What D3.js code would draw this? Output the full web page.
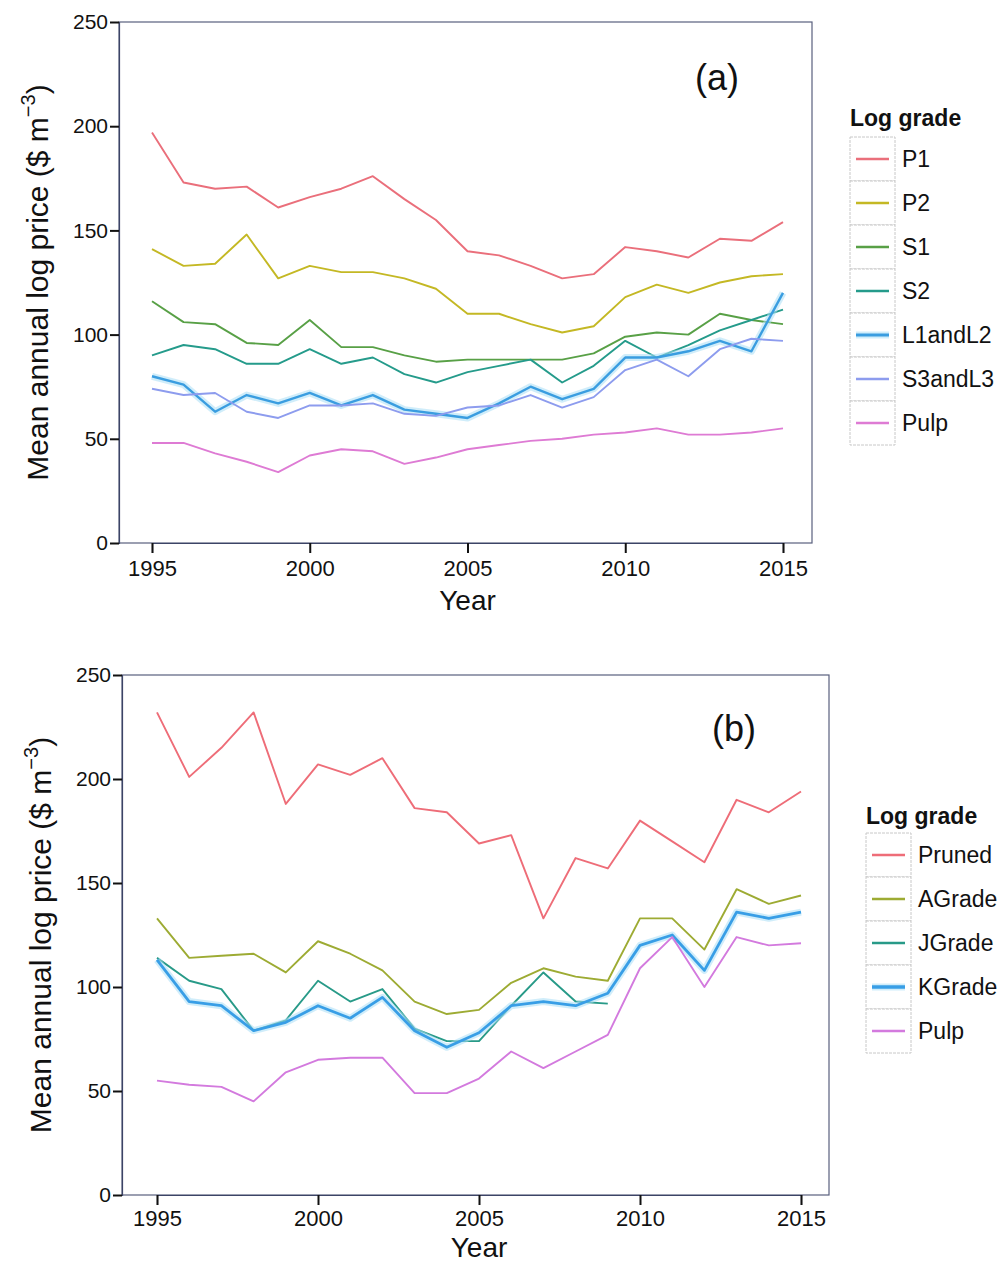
<!DOCTYPE html>
<html>
<head>
<meta charset="utf-8">
<script src="https://cdn.jsdelivr.net/npm/d3@7"></script>
<style>
  body { margin: 0; background: #fff; }
  svg { display: block; font-family: "Liberation Sans", Arial, sans-serif; }
</style>
</head>
<body>
<svg id="chart" width="1000" height="1264"></svg>
<script>
// Years on the x axis
const years = [1995, 1996, 1997, 1998, 1999, 2000, 2001, 2002, 2003, 2004, 2005,
               2006, 2007, 2008, 2009, 2010, 2011, 2012, 2013, 2014, 2015];
const xTicks = [1995, 2000, 2005, 2010, 2015];
const yTicks = [0, 50, 100, 150, 200, 250];

// Panel (a): mean annual log price by grade ($ m^-3)
const gradesA = ["P1", "P2", "S1", "S2", "L1andL2", "S3andL3", "Pulp"];
const p1    = [197, 173, 170, 171, 161, 166, 170, 176, 165, 155, 140, 138, 133, 127, 129, 142, 140, 137, 146, 145, 154];
const p2    = [141, 133, 134, 148, 127, 133, 130, 130, 127, 122, 110, 110, 105, 101, 104, 118, 124, 120, 125, 128, 129];
const s1    = [116, 106, 105, 96, 95, 107, 94, 94, 90, 87, 88, 88, 88, 88, 91, 99, 101, 100, 110, 107, 105];
const s2    = [90, 95, 93, 86, 86, 93, 86, 89, 81, 77, 82, 85, 88, 77, 85, 97, 89, 95, 102, 107, 112];
const l1l2  = [80, 76, 63, 71, 67, 72, 66, 71, 64, 62, 60, 67, 75, 69, 74, 89, 89, 92, 97, 92, 120];
const s3l3  = [74, 71, 72, 63, 60, 66, 66, 67, 62, 61, 65, 66, 71, 65, 70, 83, 88, 80, 93, 98, 97];
const pulpA = [48, 48, 43, 39, 34, 42, 45, 44, 38, 41, 45, 47, 49, 50, 52, 53, 55, 52, 52, 53, 55];
const colorsA = ["#ea6f7b", "#c4b824", "#58a046", "#259b8b", "#3a9de0", "#8d9cee", "#de7bd4"];

// Panel (b): mean annual log price by grade ($ m^-3); JGrade stops after 2009
const gradesB = ["Pruned", "AGrade", "JGrade", "KGrade", "Pulp"];
const pruned = [232, 201, 215, 232, 188, 207, 202, 210, 186, 184, 169, 173, 133, 162, 157, 180, 170, 160, 190, 184, 194];
const agrade = [133, 114, 115, 116, 107, 122, 116, 108, 93, 87, 89, 102, 109, 105, 103, 133, 133, 118, 147, 140, 144];
const jgrade = [114, 103, 99, 79, 84, 103, 93, 99, 80, 74, 74, 91, 107, 93, 92, null, null, null, null, null, null];
const kgrade = [113, 93, 91, 79, 83, 91, 85, 95, 79, 71, 78, 91, 93, 91, 97, 120, 125, 108, 136, 133, 136];
const pulpB  = [55, 53, 52, 45, 59, 65, 66, 66, 49, 49, 56, 69, 61, 69, 77, 109, 124, 100, 124, 120, 121];
const colorsB = ["#ee6d78", "#9dab33", "#289a88", "#389ee6", "#d37ade"];

const svg = d3.select("#chart");

function drawPanel(cfg) {
  const x = d3.scaleLinear().domain([1995, 2015]).range([cfg.x0, cfg.x1]);
  const y = d3.scaleLinear().domain([0, 250]).range([cfg.yBottom, cfg.yTop]);
  const g = svg.append("g");

  // plot frame
  g.append("rect")
    .attr("x", cfg.frameLeft).attr("y", cfg.yTop)
    .attr("width", cfg.frameRight - cfg.frameLeft).attr("height", cfg.yBottom - cfg.yTop)
    .attr("fill", "none").attr("stroke", "#59607e").attr("stroke-width", 1.2);

  // y axis
  const yAxis = g.append("g")
    .attr("transform", `translate(${cfg.frameLeft},0)`)
    .call(d3.axisLeft(y).tickValues(yTicks).tickSize(9).tickPadding(2));
  // x axis
  const xAxis = g.append("g")
    .attr("transform", `translate(0,${cfg.yBottom})`)
    .call(d3.axisBottom(x).tickValues(xTicks).tickSize(10).tickPadding(cfg.xPad).tickFormat(d3.format("d")));
  [yAxis, xAxis].forEach(a => {
    a.select(".domain").attr("stroke", "#3c4466").attr("stroke-width", 1.2);
    a.selectAll(".tick line").attr("stroke", "#111").attr("stroke-width", 2);
    a.selectAll(".tick text").attr("fill", "#111")
      .style("font-family", "'Liberation Sans', Arial, sans-serif");
  });
  yAxis.selectAll(".tick text").style("font-size", "21px");
  xAxis.selectAll(".tick text").style("font-size", "22px");

  // axis titles
  g.append("text")
    .attr("x", x(2005)).attr("y", cfg.yBottom + cfg.yearDy)
    .attr("text-anchor", "middle").style("font-size", "28px").attr("fill", "#111")
    .text("Year");
  const yt = g.append("text")
    .attr("transform", `translate(${cfg.frameLeft - 71},${(cfg.yTop + cfg.yBottom) / 2}) rotate(-90)`)
    .attr("text-anchor", "middle").style("font-size", "30px").attr("fill", "#111");
  yt.append("tspan").text("Mean annual log price ($ m");
  yt.append("tspan").attr("dy", -13).style("font-size", "20px").text("\u22123");
  yt.append("tspan").attr("dy", 13).text(")");

  // panel tag
  g.append("text")
    .attr("x", cfg.tagX).attr("y", cfg.tagY)
    .attr("text-anchor", "middle").style("font-size", "36px").attr("fill", "#111")
    .text(cfg.tag);

  // series
  const line = d3.line()
    .defined(d => d.v !== null)
    .x(d => x(d.year)).y(d => y(d.v));
  cfg.series.forEach(s => {
    const pts = years.map((yr, k) => ({ year: yr, v: s.values[k] }));
    if (s.halo) {
      g.append("path").datum(pts).attr("d", line)
        .attr("fill", "none").attr("stroke", "#a9def6").attr("stroke-width", 7)
        .attr("stroke-opacity", 0.55).attr("stroke-linejoin", "round");
    }
    g.append("path").datum(pts).attr("d", line)
      .attr("fill", "none").attr("stroke", s.color)
      .attr("stroke-width", s.width).attr("stroke-linejoin", "round");
  });

  // legend
  const lg = svg.append("g").attr("transform", `translate(${cfg.legX},${cfg.legY})`);
  lg.append("text").attr("x", 0).attr("y", 0)
    .style("font-size", "23px").style("font-weight", "bold").attr("fill", "#111")
    .text("Log grade");
  const rowH = 44, keyW = 45, top = cfg.legTop;
  cfg.series.forEach((s, i) => {
    const ry = top + i * rowH;
    lg.append("rect").attr("x", 0).attr("y", ry).attr("width", keyW).attr("height", rowH)
      .attr("fill", "#fff").attr("stroke", "#c8c8c8").attr("stroke-width", 1)
      .attr("stroke-dasharray", "3,1");
    if (s.halo) {
      lg.append("line").attr("x1", 6).attr("x2", keyW - 6).attr("y1", ry + rowH / 2).attr("y2", ry + rowH / 2)
        .attr("stroke", "#a9def6").attr("stroke-width", 7).attr("stroke-opacity", 0.55);
    }
    lg.append("line").attr("x1", 6).attr("x2", keyW - 6).attr("y1", ry + rowH / 2).attr("y2", ry + rowH / 2)
      .attr("stroke", s.color).attr("stroke-width", s.width + 0.5);
    lg.append("text").attr("x", keyW + 7).attr("y", ry + rowH / 2 + 8)
      .style("font-size", "23px").attr("fill", "#111").text(s.name);
  });
}

const valuesA = [p1, p2, s1, s2, l1l2, s3l3, pulpA];
drawPanel({
  x0: 152, x1: 783, yTop: 22, yBottom: 543, frameLeft: 119, frameRight: 812,
  xPad: 7, yearDy: 67,
  tag: "(a)", tagX: 717, tagY: 90, legX: 850, legY: 126, legTop: 11,
  series: gradesA.map((n, i) => ({ name: n, values: valuesA[i], color: colorsA[i],
    width: n === "L1andL2" ? 2.4 : 1.9, halo: n === "L1andL2" }))
});

const valuesB = [pruned, agrade, jgrade, kgrade, pulpB];
drawPanel({
  x0: 157, x1: 801, yTop: 675, yBottom: 1195, frameLeft: 122, frameRight: 829,
  xPad: 5, yearDy: 62,
  tag: "(b)", tagX: 734, tagY: 741, legX: 866, legY: 824, legTop: 9,
  series: gradesB.map((n, i) => ({ name: n, values: valuesB[i], color: colorsB[i],
    width: n === "KGrade" ? 2.8 : 1.9, halo: n === "KGrade" }))
});
</script>
</body>
</html>
